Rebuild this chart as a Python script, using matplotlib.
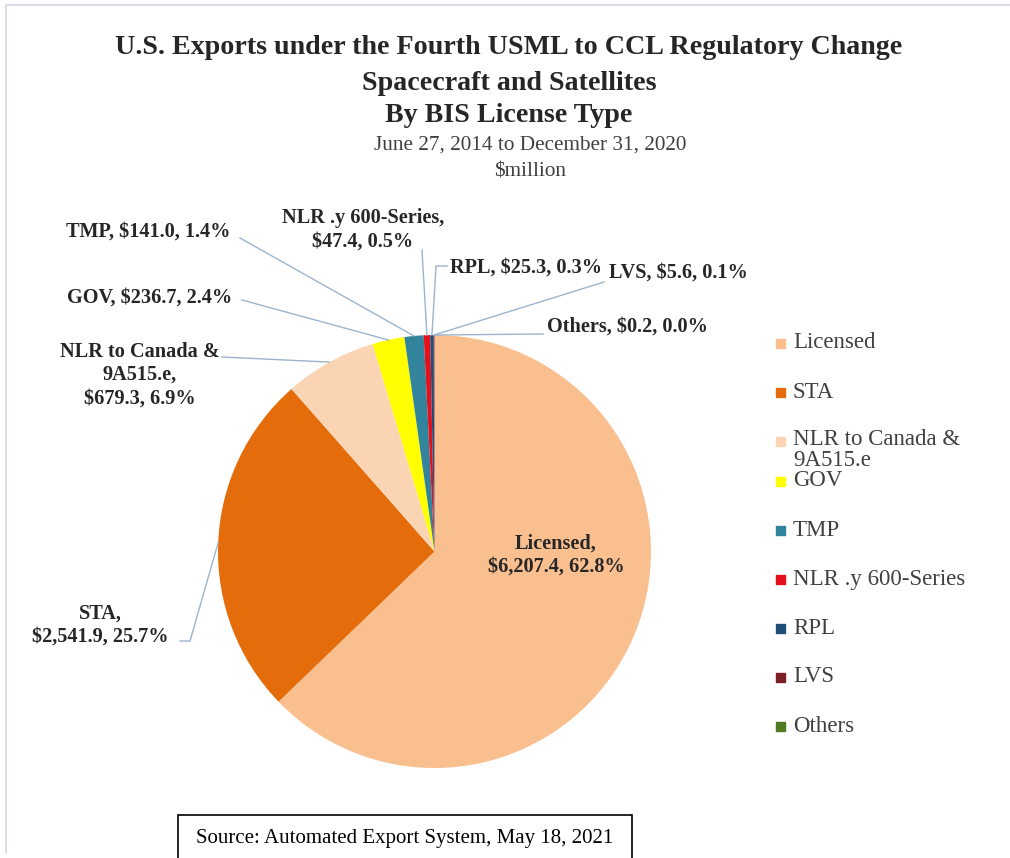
import numpy as np
import matplotlib.pyplot as plt
from matplotlib.patches import Rectangle

# Spacecraft and Satellites exports by BIS license type ($ million)
categories = ['Licensed', 'STA', 'NLR to Canada & 9A515.e', 'GOV', 'TMP',
              'NLR .y 600-Series', 'RPL', 'LVS', 'Others']
values = [6207.4, 2541.9, 679.3, 236.7, 141.0, 47.4, 25.3, 5.6, 0.2]
percents = [62.8, 25.7, 6.9, 2.4, 1.4, 0.5, 0.3, 0.1, 0.0]
legend_labels = ['Licensed', 'STA', 'NLR to Canada &\n9A515.e', 'GOV', 'TMP',
                 'NLR .y 600-Series', 'RPL', 'LVS', 'Others']
label_names = ['Licensed,\n', 'STA,\n', 'NLR to Canada &\n9A515.e,\n', 'GOV, ', 'TMP, ',
               'NLR .y 600-Series,\n', 'RPL, ', 'LVS, ', 'Others, ']

colors = ['#F9BF8F', '#E46C0A', '#FBD4B4', '#FFFF00', '#31849B',
          '#E3101E', '#1F4E79', '#7A1E28', '#4F7A22']

W, H = 1010, 858
plt.rcParams['font.family'] = ['Liberation Serif', 'DejaVu Serif']

fig = plt.figure(figsize=(W / 100, H / 100), dpi=100)
ax = fig.add_axes([0, 0, 1, 1])


def py(y):
    # pixel row -> data y
    return H - y


cx, cy, r = 434.5, py(551.5), 216.5
wedges, _ = ax.pie(values, colors=colors, startangle=90, counterclock=False,
                   radius=r, center=(cx, cy), frame=True)
ax.set_xlim(0, W)
ax.set_ylim(0, H)
ax.set_aspect('auto')
ax.axis('off')

# label layout: text anchor, alignment, leader start, optional elbow
label_layout = [
    ((556, 555), 'center', None, None),
    ((100, 625), 'center', (180, 641), (190, 641)),
    ((140, 375), 'center', (222, 357), None),
    ((150, 298), 'center', (242, 300), None),
    ((148, 232), 'center', (240, 238), None),
    ((363, 230), 'center', (422, 250), None),
    ((450, 268), 'left', (447, 266), (436, 266)),
    ((609, 273), 'left', (604, 282), None),
    ((547, 327), 'left', (543, 334), None),
]
line_col = '#9DB4CE'
for w, name, v, p, (tpos, ha, start, elbow) in zip(wedges, label_names, values, percents, label_layout):
    txt = f"{name}${v:,.1f}, {p:.1f}%"
    ax.text(tpos[0], py(tpos[1]), txt, ha=ha, va='center', fontsize=14.6,
            fontweight='bold', color='#262626', linespacing=1.22,
            multialignment='center')
    if start is None:
        continue
    mid = np.deg2rad((w.theta1 + w.theta2) / 2)
    ex, ey = cx + r * np.cos(mid), cy + r * np.sin(mid)
    xs = [start[0]] + ([elbow[0]] if elbow else []) + [ex]
    ys = [py(start[1])] + ([py(elbow[1])] if elbow else []) + [ey]
    ax.plot(xs, ys, color=line_col, lw=1)

# titles
title_lines = ['U.S. Exports under the Fourth USML to CCL Regulatory Change',
               'Spacecraft and Satellites', 'By BIS License Type']
for t, y in zip(title_lines, [47, 83, 115]):
    ax.text(509, py(y), t, ha='center', va='center', fontsize=20.2,
            fontweight='bold', color='#262626')
ax.text(530, py(145), 'June 27, 2014 to December 31, 2020', ha='center', va='center',
        fontsize=15.3, color='#404040')
ax.text(530, py(172), '$million', ha='center', va='center', fontsize=15.3, color='#404040')

# legend
ly = 343
for lab, c in zip(legend_labels, colors):
    if lab == 'GOV':
        ly -= 9
    ax.add_patch(Rectangle((776, py(ly) - 4.5), 9, 9, color=c))
    if '\n' in lab:
        ax.text(793, py(ly) + 12, lab, ha='left', va='top', fontsize=16.5,
                color='#404040', linespacing=1.0)
    else:
        ax.text(793, py(ly), lab, ha='left', va='center', fontsize=16.5,
                color='#404040')
    ly += 49

# chart frame
ax.plot([6, 6, W], [py(852), py(5), py(5)], color='#DCDCE8', lw=1.5)

# source box
ax.add_patch(Rectangle((178, py(870)), 454, 55, fill=False, edgecolor='black', lw=1.2))
ax.text(405, py(838), 'Source: Automated Export System, May 18, 2021', ha='center',
        va='center', fontsize=15, color='black')

fig.savefig('out.png', dpi=100)
